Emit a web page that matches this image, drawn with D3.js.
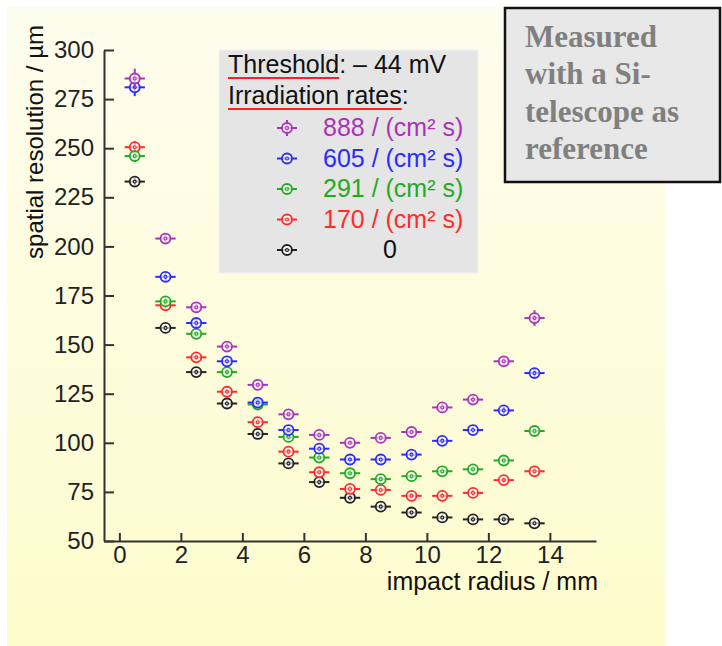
<!DOCTYPE html>
<html>
<head>
<meta charset="utf-8">
<script src="https://cdn.jsdelivr.net/npm/d3@7"></script>
<style>
    body { margin: 0; background: #ffffff; }
    svg { display: block; }
    .axis text { font-family: "Liberation Sans", Arial, sans-serif; font-size: 24px; fill: #222; }
    .axis path, .axis line { stroke: #333; stroke-width: 2px; }
</style>
</head>
<body>
<div id="chart"></div>
<script>

// impact radius bin centres (mm)
let radius = [0.5, 1.5, 2.5, 3.5, 4.5, 5.5, 6.5, 7.5, 8.5, 9.5, 10.5, 11.5, 12.5, 13.5];

// spatial resolution (µm) per irradiation rate
let res888 = [285.5, 204, 169, 149, 129.5, 114.5, 104, 100, 102.5, 105.5, 118, 122, 141.5, 163.5];
let res605 = [281, 184.5, 161, 141.5, 120.5, 106.5, 97, 91.5, 91.5, 94, 101, 106.5, 116.5, 135.5];
let res291 = [246, 172, 155.5, 136, 119.5, 103, 92.5, 84.5, 81.5, 83, 85.5, 86.5, 91, 106];
let res170 = [250.5, 170, 143.5, 126, 110.5, 95.5, 85, 76.5, 76, 73, 73, 74.5, 81, 85.5];
let res0 = [233, 158.5, 136, 120, 104.5, 89.5, 80, 72, 67.5, 64.5, 62, 61, 61, 59];

// vertical errors (µm)
let err888 = [5, 2.5, 2, 2, 1.5, 1.5, 1.5, 1.5, 1.5, 1.5, 2, 2, 2.5, 4];
let err605 = [4.5, 2.5, 2, 1.5, 1.5, 1.5, 1.5, 1.5, 1.5, 1.5, 1.5, 1.5, 2, 2.5];
let err291 = [3, 2, 1.5, 1.5, 1.5, 1.5, 1.5, 1.5, 1.5, 1.5, 1.5, 1.5, 1.5, 2];
let err170 = [3, 2, 1.5, 1.5, 1.5, 1.5, 1.5, 1.5, 1.5, 1.5, 1.5, 1.5, 1.5, 1.5];
let err0 = [2, 1.5, 1.5, 1.5, 1.5, 1.5, 1.5, 1.5, 1.5, 1.5, 1.5, 1.5, 1.5, 1.5];

let rateLabels = ["888 / (cm² s)", "605 / (cm² s)", "291 / (cm² s)", "170 / (cm² s)", "0"];
let rateColors = ["#aa33bb", "#2b2bff", "#22aa22", "#ff2b2b", "#222222"];

let yTicks = [50, 75, 100, 125, 150, 175, 200, 225, 250, 275, 300];
let xTicks = [0, 2, 4, 6, 8, 10, 12, 14];

let noteLines = ["Measured", "with a Si-", "telescope as", "reference"];

// series in legend order
let series = [
    {label: rateLabels[0], color: rateColors[0], values: res888, err: err888},
    {label: rateLabels[1], color: rateColors[1], values: res605, err: err605},
    {label: rateLabels[2], color: rateColors[2], values: res291, err: err291},
    {label: rateLabels[3], color: rateColors[3], values: res170, err: err170},
    {label: rateLabels[4], color: rateColors[4], values: res0, err: err0}
];

let width = 722, height = 646;

let svg = d3.select("#chart").append("svg")
    .attr("width", width)
    .attr("height", height);

// cream background panel
let grad = svg.append("defs").append("linearGradient")
    .attr("id", "panelGrad")
    .attr("x1", 0).attr("y1", 0).attr("x2", 0).attr("y2", 1);
grad.append("stop").attr("offset", "0%").attr("stop-color", "#fdfdee");
grad.append("stop").attr("offset", "100%").attr("stop-color", "#fefccc");

svg.append("rect")
    .attr("x", 7).attr("y", 7)
    .attr("width", 658).attr("height", 645)
    .attr("fill", "url(#panelGrad)");

// scales
let x = d3.scaleLinear().domain([-0.5, 15.5]).range([104, 596]);
let y = d3.scaleLinear().domain([50, 300]).range([541, 50]);

let xAxis = d3.axisBottom(x)
    .tickValues(xTicks)
    .tickSizeInner(-8)
    .tickSizeOuter(0)
    .tickPadding(5);

let yAxis = d3.axisLeft(y)
    .tickValues(yTicks)
    .tickSizeInner(-10)
    .tickSizeOuter(0)
    .tickPadding(10);

svg.append("g")
    .attr("class", "x-axis axis")
    .attr("transform", "translate(0," + y(50) + ")")
    .call(xAxis);

svg.append("g")
    .attr("class", "y-axis axis")
    .attr("transform", "translate(" + x(-0.5) + ",0)")
    .call(yAxis);

svg.selectAll(".axis text").attr("font-family", null);

// axis titles
svg.append("text")
    .attr("x", 598)
    .attr("y", 590)
    .attr("text-anchor", "end")
    .style("font-family", "'Liberation Sans', Arial, sans-serif")
    .style("font-size", "25px")
    .attr("fill", "#111")
    .text("impact radius / mm");

svg.append("text")
    .attr("transform", "translate(43,142) rotate(-90)")
    .attr("text-anchor", "middle")
    .style("font-family", "'Liberation Sans', Arial, sans-serif")
    .style("font-size", "24px")
    .attr("fill", "#111")
    .text("spatial resolution / µm");

// draws one marker (error bars + open circle with a dot)
function drawMarker(g, cx, cy, color, halfW, halfH) {
    g.append("line")
        .attr("x1", cx - halfW).attr("x2", cx + halfW)
        .attr("y1", cy).attr("y2", cy)
        .attr("stroke", color).attr("stroke-width", 2);
    if (halfH > 0) {
        g.append("line")
            .attr("x1", cx).attr("x2", cx)
            .attr("y1", cy - halfH).attr("y2", cy + halfH)
            .attr("stroke", color).attr("stroke-width", 2);
    }
    g.append("circle")
        .attr("cx", cx).attr("cy", cy).attr("r", 5)
        .attr("fill", "#ffffff").attr("fill-opacity", 0.7)
        .attr("stroke", color).attr("stroke-width", 1.8);
    g.append("circle")
        .attr("cx", cx).attr("cy", cy).attr("r", 1.5)
        .attr("fill", "none")
        .attr("stroke", color).attr("stroke-width", 1.1);
}

// data points, lowest rate drawn first
let plot = svg.append("g").attr("class", "points");
series.slice().reverse().forEach(s => {
    let g = plot.append("g");
    radius.forEach((r, i) => {
        let cy = y(s.values[i]);
        let halfH = y(s.values[i] - s.err[i]) - cy;
        drawMarker(g, x(r), cy, s.color, x(r + 0.33) - x(r), halfH);
    });
});

// legend box
let legend = svg.append("g").attr("class", "legend");
legend.append("rect")
    .attr("x", 219).attr("y", 50)
    .attr("width", 259).attr("height", 223)
    .attr("fill", "#e5e5e5")
    .attr("stroke", "#f3f3f3").attr("stroke-width", 1);

let legendFont = "'Liberation Sans', Arial, sans-serif";

function underlinedLine(first, rest, yPos) {
    let t = legend.append("text")
        .attr("x", 228).attr("y", yPos)
        .style("font-family", legendFont)
        .style("font-size", "25px")
        .attr("fill", "#111");
    let a = t.append("tspan").text(first);
    t.append("tspan").text(rest);
    let len = a.node().getComputedTextLength();
    legend.append("line")
        .attr("x1", 228).attr("x2", 228 + len)
        .attr("y1", yPos + 5).attr("y2", yPos + 5)
        .attr("stroke", "#ff2020").attr("stroke-width", 2);
}

underlinedLine("Threshold", ": – 44 mV", 73);
underlinedLine("Irradiation rates", ":", 104);

series.forEach((s, i) => {
    let cy = 128 + i * 30.5;
    let row = legend.append("g");
    drawMarker(row, 287, cy, s.color, 10, i === 0 ? 8 : 0);
    row.append("text")
        .attr("x", i === 4 ? 390 : 323)
        .attr("y", cy + 8)
        .attr("text-anchor", i === 4 ? "middle" : "start")
        .style("font-family", legendFont)
        .style("font-size", "25px")
        .attr("fill", s.color === "#222222" ? "#111" : s.color)
        .text(s.label);
});

// note box, top right
let note = svg.append("g").attr("class", "note");
note.append("rect")
    .attr("x", 505).attr("y", 8)
    .attr("width", 215).attr("height", 174)
    .attr("fill", "#e8e8e8")
    .attr("stroke", "#111").attr("stroke-width", 2.5);

note.selectAll("text")
    .data(noteLines)
    .enter()
    .append("text")
    .attr("x", 525)
    .attr("y", (d, i) => 47 + i * 37.3)
    .style("font-family", "'Liberation Serif', 'Times New Roman', serif")
    .style("font-weight", "bold")
    .style("font-size", "31px")
    .attr("fill", "#808080")
    .text(d => d);

</script>
</body>
</html>
